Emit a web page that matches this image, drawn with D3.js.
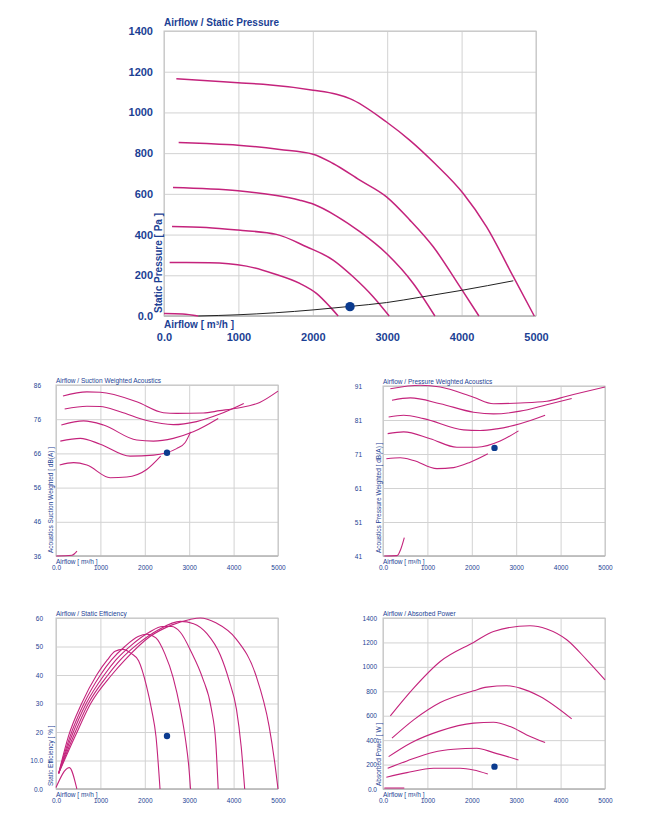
<!DOCTYPE html>
<html>
<head>
<meta charset="utf-8">
<script src="https://cdn.jsdelivr.net/npm/d3@7"></script>
<style>
  body { margin: 0; background: #fff; }
  svg { display: block; font-family: "Liberation Sans", Arial, sans-serif; }
</style>
</head>
<body>
<svg id="chart" width="653" height="819"></svg>
<script>
// fan curves, one array per speed step

const flowTicks = [0, 1000, 2000, 3000, 4000, 5000];

// Airflow / Static Pressure [Pa]
const pressureTicks = [0, 200, 400, 600, 800, 1000, 1200, 1400];
const pressureCurves = [
  [[0, 12], [250, 10], [460, 0]],
  [[76, 263], [614, 262], [1108, 245], [1466, 209], [1825, 160], [2049, 111], [2229, 46], [2341, 0]],
  [[108, 440], [570, 435], [995, 422], [1511, 401], [1915, 340], [2273, 275], [2542, 193], [2811, 95], [3027, 0]],
  [[121, 631], [995, 615], [1466, 594], [1825, 569], [2004, 550], [2318, 491], [2632, 414], [2991, 307], [3350, 160], [3641, 0]],
  [[197, 852], [570, 847], [995, 839], [1556, 818], [2004, 795], [2273, 749], [2632, 667], [2991, 585], [3305, 471], [3619, 340], [3977, 144], [4233, 0]],
  [[166, 1166], [480, 1158], [995, 1146], [1332, 1138], [2004, 1109], [2318, 1089], [2498, 1068], [2991, 953], [3305, 863], [3641, 749], [4022, 602], [4336, 438], [4695, 193], [4977, 0]]
];
const systemCurve = [[460, 0], [995, 6], [1500, 16], [2004, 30], [2498, 47], [2991, 66], [3439, 92], [4000, 126], [4695, 173]];
const pressurePoint = [2500, 46];

// Airflow / Suction Weighted Acoustics [dB(A)]
const suctionTicks = [36, 46, 56, 66, 76, 86];
const suctionCurves = [
  [[7, 36], [360, 36.2], [472, 37.4]],
  [[82, 62.6], [397, 63.3], [696, 62.6], [1220, 58.9], [1594, 59.1], [2043, 61.3], [2358, 65.2]],
  [[97, 69.6], [546, 70.4], [996, 68.7], [1669, 65.2], [2193, 65.5], [2717, 67.4], [2905, 69.1], [3031, 72.3]],
  [[120, 74.3], [621, 75.5], [1070, 74.3], [1819, 69.9], [2193, 69.6], [2642, 70.4], [3091, 72.3], [3653, 76.2]],
  [[195, 79.0], [696, 79.8], [996, 79.7], [1445, 78.2], [2043, 75.6], [2642, 74.4], [3166, 75.3], [3690, 77.5], [4229, 80.6]],
  [[157, 82.8], [696, 84.0], [996, 83.9], [1819, 81.1], [2418, 77.9], [2717, 77.7], [3316, 77.8], [3690, 78.5], [4064, 79.2], [4588, 80.9], [5000, 84.2]]
];
const suctionPoint = [2500, 66.2];

// Airflow / Pressure Weighted Acoustics [dB(A)]
const pressureDbTicks = [41, 51, 61, 71, 81, 91];
const pressureDbCurves = [
  [[30, 41], [315, 41.1], [400, 43], [480, 46.4]],
  [[75, 69.6], [390, 69.9], [690, 69.1], [1214, 66.7], [1589, 67.0], [1964, 68.6], [2361, 71.1]],
  [[105, 77.0], [465, 77.5], [1064, 75.5], [1664, 73.0], [2114, 73.0], [2639, 74.8], [3051, 77.8]],
  [[127, 81.9], [465, 82.4], [915, 81.4], [1814, 78.1], [2189, 77.9], [2564, 78.4], [3088, 79.9], [3651, 82.4]],
  [[202, 86.8], [615, 87.5], [1289, 85.8], [2039, 83.3], [2489, 82.8], [3088, 83.6], [3688, 85.5], [4250, 87.3]],
  [[165, 90.2], [840, 91.2], [1289, 90.7], [2039, 87.7], [2489, 85.8], [3088, 86.0], [3688, 86.5], [4138, 88.0], [5000, 90.7]]
];
const pressureDbPoint = [2511, 72.8];

// Airflow / Static Efficiency [%]
const efficiencyTicks = [0, 10, 20, 30, 40, 50, 60];
const efficiencyCurves = [
  [[0, 0.5], [300, 7.5], [470, 0]],
  [[60, 5.5], [278, 18.4], [578, 30], [916, 40], [1156, 45.3], [1330, 48.3], [1500, 49], [1700, 47.5], [1860, 45], [2040, 36], [2155, 27.7], [2252, 18.4], [2343, 0]],
  [[60, 5.5], [315, 18.4], [630, 30], [1000, 40], [1250, 45.3], [1550, 50], [1850, 53.5], [2050, 54.3], [2250, 53], [2450, 47.5], [2640, 39], [2800, 28], [2920, 17], [2990, 8], [3030, 0]],
  [[60, 5.5], [350, 18.4], [680, 30], [1085, 40], [1350, 45.3], [1700, 50.5], [2100, 55], [2400, 57], [2600, 57], [2800, 55], [3050, 48], [3300, 39], [3500, 28], [3600, 16], [3653, 0]],
  [[60, 5.5], [390, 18.4], [730, 30], [1170, 40], [1450, 45.3], [1850, 51], [2300, 55.8], [2800, 58.8], [3100, 58], [3400, 54.5], [3700, 47], [3900, 38], [4064, 28], [4170, 15], [4250, 0]],
  [[60, 5.5], [428, 18.4], [781, 30], [1253, 40], [1554, 45.3], [2117, 53.5], [2600, 57.5], [3017, 59.5], [3250, 60], [3600, 58.3], [4064, 52.5], [4500, 40], [4800, 22], [4920, 10], [5000, 0]]
];
const efficiencyPoint = [2500, 18.6];

// Airflow / Absorbed Power [W]
const powerTicks = [0, 200, 400, 600, 800, 1000, 1200, 1400];
const powerCurves = [
  [[30, 8], [480, 8]],
  [[75, 96], [540, 134], [1139, 170], [1739, 170], [2039, 156], [2361, 123]],
  [[105, 170], [540, 230], [1139, 301], [1589, 325], [2114, 334], [2489, 298], [3051, 238]],
  [[127, 265], [615, 375], [1289, 476], [2039, 539], [2489, 547], [2864, 511], [3238, 443], [3651, 380]],
  [[202, 416], [690, 566], [1289, 708], [2039, 804], [2339, 834], [2789, 845], [3088, 826], [3538, 757], [4250, 574]],
  [[165, 599], [690, 826], [1289, 1044], [2039, 1200], [2489, 1290], [3313, 1337], [3688, 1310], [4138, 1222], [4588, 1058], [5000, 894]]
];
const powerPoint = [2511, 183];

const pink = "#c4237c";
const navy = "#1c3f94";
const dotBlue = "#0b3b8f";

const svg = d3.select("#chart");

function drawPanel(o) {
  const w = o.right - o.left, h = o.bottom - o.top;
  const x = d3.scaleLinear().domain([0, 5000]).range([o.left, o.right]);
  const y = d3.scaleLinear().domain([o.yTicks[0], o.yTicks[o.yTicks.length - 1]]).range([o.bottom, o.top]);
  const g = svg.append("g");

  // grid
  g.append("g")
    .attr("transform", `translate(0,${o.bottom})`)
    .call(d3.axisBottom(x).tickValues(flowTicks).tickSize(-h).tickFormat(""))
    .call(a => a.select(".domain").remove())
    .call(a => a.selectAll("line").attr("stroke", "#d2d2d2").attr("stroke-width", o.gridW));
  g.append("g")
    .attr("transform", `translate(${o.left},0)`)
    .call(d3.axisLeft(y).tickValues(o.yTicks).tickSize(-w).tickFormat(""))
    .call(a => a.select(".domain").remove())
    .call(a => a.selectAll("line").attr("stroke", "#d2d2d2").attr("stroke-width", o.gridW));
  g.append("rect")
    .attr("x", o.left).attr("y", o.top).attr("width", w).attr("height", h)
    .attr("fill", "none").attr("stroke", "#c4c4c4").attr("stroke-width", o.gridW);
  g.append("line")
    .attr("x1", o.left).attr("x2", o.right).attr("y1", o.bottom).attr("y2", o.bottom)
    .attr("stroke", "#b8b8b8").attr("stroke-width", o.gridW + 0.5);

  // tick labels
  g.append("g")
    .attr("transform", `translate(${o.left - o.yPad},0)`)
    .call(d3.axisLeft(y).tickValues(o.yTicks).tickSize(0).tickPadding(0).tickFormat(o.yFmt))
    .call(a => a.select(".domain").remove())
    .call(a => a.selectAll("text")
      .attr("fill", navy).attr("font-size", o.font).attr("font-weight", o.weight)
      .attr("font-family", "'Liberation Sans', Arial, sans-serif"));
  g.append("g")
    .attr("transform", `translate(0,${o.bottom})`)
    .call(d3.axisBottom(x).tickValues(flowTicks).tickSize(0).tickFormat(d => d === 0 ? "0.0" : d))
    .call(a => a.select(".domain").remove())
    .call(a => a.selectAll("text")
      .attr("y", o.xTickY).attr("dy", 0)
      .attr("fill", navy).attr("font-size", o.font).attr("font-weight", o.weight)
      .attr("font-family", "'Liberation Sans', Arial, sans-serif"));

  // titles
  g.append("text")
    .attr("x", o.left).attr("y", o.top - o.titleGap)
    .attr("fill", navy).attr("font-size", o.titleFont).attr("font-weight", o.weight)
    .text(o.title);
  g.append("text")
    .attr("x", o.left).attr("y", o.bottom + o.airflowY)
    .attr("fill", navy).attr("font-size", o.titleFont).attr("font-weight", o.weight)
    .text("Airflow [ m³/h ]");
  g.append("text")
    .attr("transform", `translate(${o.yLabelX},${o.bottom - 3}) rotate(-90)`)
    .attr("fill", navy).attr("font-size", o.titleFont).attr("font-weight", o.weight)
    .text(o.yLabel);

  // curves
  const line = d3.line().x(d => x(d[0])).y(d => y(d[1])).curve(d3.curveMonotoneX);
  g.append("g").selectAll("path")
    .data(o.curves)
    .join("path")
    .attr("d", line)
    .attr("fill", "none")
    .attr("stroke", pink)
    .attr("stroke-width", o.lineW);
  if (o.system) {
    g.append("path")
      .attr("d", line(o.system))
      .attr("fill", "none").attr("stroke", "#222").attr("stroke-width", 1);
  }
  g.append("circle")
    .attr("cx", x(o.point[0])).attr("cy", y(o.point[1])).attr("r", o.dotR)
    .attr("fill", dotBlue);
}

const small = { font: 6.5, titleFont: 6.5, weight: "normal", gridW: 1, lineW: 1.1, dotR: 3.2, titleGap: 2, airflowY: 8, xTickY: 14 };

drawPanel({
  left: 164, right: 536, top: 31, bottom: 316,
  yTicks: pressureTicks, yFmt: d => d === 0 ? "0.0" : d, yPad: 11,
  font: 11, titleFont: 10, weight: "bold", gridW: 1, lineW: 1.5, dotR: 4.7,
  titleGap: 5, airflowY: 12, xTickY: 25,
  title: "Airflow / Static Pressure", yLabel: "Static Pressure [ Pa ]", yLabelX: 162,
  curves: pressureCurves, system: systemCurve, point: pressurePoint
});

drawPanel(Object.assign({}, small, {
  left: 56, right: 278, top: 385, bottom: 556,
  yTicks: suctionTicks, yFmt: d => d, yPad: 15,
  title: "Airflow / Suction Weighted Acoustics", yLabel: "Acoustics Suction Weighted [ dB(A) ]", yLabelX: 53,
  curves: suctionCurves, point: suctionPoint
}));

drawPanel(Object.assign({}, small, {
  left: 383, right: 605, top: 386, bottom: 556,
  yTicks: pressureDbTicks, yFmt: d => d, yPad: 21,
  title: "Airflow / Pressure Weighted Acoustics", yLabel: "Acoustics Pressure Weighted [ dB(A) ]", yLabelX: 381,
  curves: pressureDbCurves, point: pressureDbPoint
}));

drawPanel(Object.assign({}, small, {
  left: 56, right: 278, top: 618, bottom: 789,
  yTicks: efficiencyTicks, yFmt: d => d === 0 ? "0.0" : d === 10 ? "10.0" : d, yPad: 13,
  title: "Airflow / Static Efficiency", yLabel: "Static Efficiency [ % ]", yLabelX: 53,
  curves: efficiencyCurves, point: efficiencyPoint
}));

drawPanel(Object.assign({}, small, {
  left: 383, right: 605, top: 618, bottom: 789,
  yTicks: powerTicks, yFmt: d => d === 0 ? "0.0" : d, yPad: 6,
  title: "Airflow / Absorbed Power", yLabel: "Absorbed Power [ W ]", yLabelX: 381,
  curves: powerCurves, point: powerPoint
}));
</script>
</body>
</html>
